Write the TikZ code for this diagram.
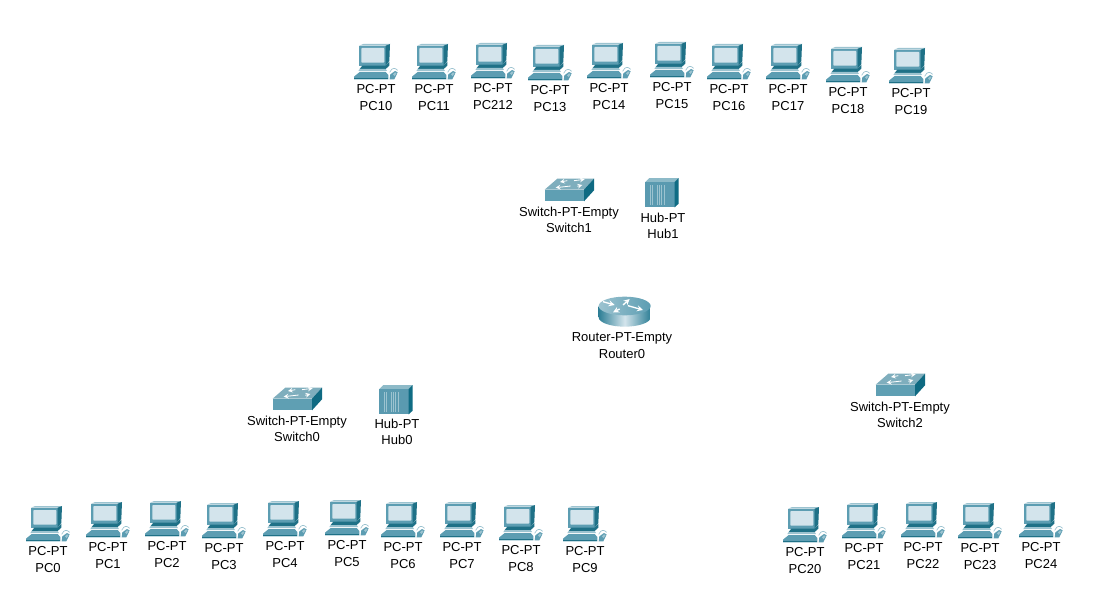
\documentclass[tikz,border=0pt]{standalone}
\usepackage{fontspec}
\setmainfont{Liberation Sans}
\definecolor{pcface}{HTML}{5C9DB2}
\definecolor{pcdark}{HTML}{1F7187}
\definecolor{pcscreen}{HTML}{D3E4EC}
\definecolor{pclight}{HTML}{9CC3D0}
\definecolor{swtop}{HTML}{7FAEBD}
\definecolor{swfront}{HTML}{5F9FB3}
\definecolor{swside}{HTML}{0F6A82}
\definecolor{hubfront}{HTML}{5A9AB0}
\definecolor{hubside}{HTML}{0F6C84}
\definecolor{hubtop}{HTML}{8DBAC8}
\definecolor{rttop}{HTML}{84B2C2}
\definecolor{rtdark}{HTML}{2E7F96}
\tikzset{
  devlabel/.style={font=\fontsize{9.75}{12.2}\selectfont,align=center,inner sep=0pt,text=black},
  zoomcoord/.style={x=0.25pt,y=-0.25pt},
  pcicon/.pic={
    \begin{scope}[zoomcoord,xshift=-23.25pt,yshift=7.5pt,line join=round]
      % monitor
      \fill[pcface] (42,32) -- (122,32) -- (122,92) -- (42,92) -- cycle;
      \fill[pclight] (42,32) -- (55,27) -- (135,27) -- (122,32) -- cycle;
      \fill[pcdark] (122,32) -- (135,27) -- (133,78) -- (122,92) -- cycle;
      \fill[pcscreen,rounded corners=0.6pt] (49,39) -- (118,39) -- (118,83) -- (49,83) -- cycle;
      % neck and base
      \fill[pcdark] (52,92) -- (122,92) -- (133,80) -- (133,92) -- (122,102) -- (44,102) -- cycle;
      \fill[pclight] (44,102) -- (122,102) -- (126,108) -- (40,108) -- cycle;
      % keyboard
      \fill[pcface] (44,111) -- (122,111) -- (130,120) -- (130,133) -- (27,133) -- (27,125) -- cycle;
      \fill[pcdark] (27,130) -- (130,130) -- (130,133) -- (27,133) -- cycle;
      % mouse
      \draw[pclight,line width=0.5pt] (134,112) .. controls (142,96) and (150,98) .. (158,106);
      \fill[pcface] (136,118) -- (150,108) -- (158,112) -- (148,133) -- (134,133) -- cycle;
      \fill[pclight] (144,118) -- (150,112) -- (155,114) -- (149,123) -- cycle;
    \end{scope}
  },
  switchicon/.pic={
    \begin{scope}[zoomcoord,xshift=-43.75pt,yshift=7pt,line join=round]
      \fill[swtop] (102,60) -- (140,27) -- (250,27) -- (220,60) -- cycle;
      \fill[swfront] (102,60) -- (220,60) -- (220,95) -- (102,95) -- cycle;
      \fill[swside] (220,60) -- (250,27) -- (250,62) -- (220,95) -- cycle;
      \draw[white,line width=0.6pt,-stealth] (170,33) -- (148,37);
      \draw[white,line width=0.6pt,-stealth] (190,33) -- (222,29);
      \draw[white,line width=0.6pt,-stealth] (180,49) -- (135,54);
      \draw[white,line width=0.6pt,-stealth] (200,50) -- (215,46);
    \end{scope}
  },
  hubicon/.pic={
    \begin{scope}[zoomcoord,xshift=-114.5pt,yshift=6.25pt,line join=round]
      \fill[hubtop] (405,37) -- (417,25) -- (505,25) -- (493,37) -- cycle;
      \fill[hubfront] (405,37) -- (493,37) -- (493,113) -- (405,113) -- cycle;
      \fill[hubside] (493,37) -- (505,25) -- (505,102) -- (493,113) -- cycle;
      \foreach \sx in {420,427,440,447,453,462}
        \draw[pclight,line width=0.6pt] (\sx,47) -- (\sx,106);
    \end{scope}
  },
  routericon/.pic={
    \begin{scope}[zoomcoord,xshift=-39.25pt,yshift=5.5pt,line join=round]
      \path[left color=rtdark,right color=rtdark,middle color=pcscreen]
        (87,49) -- (87,83) arc[start angle=180,end angle=0,x radius=78,y radius=28] -- (243,49) -- cycle;
      \path[left color=pclight,right color=pcface] (165,49) ellipse[x radius=78,y radius=28];
      \draw[white,line width=1pt,-stealth] (100,36) -- (135,46);
      \draw[white,line width=1pt,-stealth] (150,58) -- (130,68);
      \draw[white,line width=1pt,-stealth] (160,46) -- (180,28);
      \draw[white,line width=1pt,-stealth] (175,48) -- (220,61);
    \end{scope}
  }
}
\newcommand{\pcdev}[3]{%
  \pic at (#1,#2) {pcicon};
  \node[devlabel] (#3) at (#1,#2+52.5) {PC-PT\\#3};
}
\newcommand{\devicelab}[6]{%
  \pic at (#2,#3) {#1};
  \node[devlabel] (#4) at (#2,#3+#6) {#5\\#4};
}
\begin{document}
\begin{tikzpicture}[x=0.75pt,y=-0.75pt]
  \useasboundingbox[fill=white] (0,0) rectangle (1100,610);
  \pcdev{376}{45}{PC10}
  \pcdev{434}{45}{PC11}
  \pcdev{493}{44}{PC212}
  \pcdev{550}{46}{PC13}
  \pcdev{609}{44}{PC14}
  \pcdev{672}{43}{PC15}
  \pcdev{729}{45}{PC16}
  \pcdev{788}{45}{PC17}
  \pcdev{848}{48}{PC18}
  \pcdev{911}{49}{PC19}
  \pcdev{48}{507}{PC0}
  \pcdev{108}{503}{PC1}
  \pcdev{167}{502}{PC2}
  \pcdev{224}{504}{PC3}
  \pcdev{285}{502}{PC4}
  \pcdev{347}{501}{PC5}
  \pcdev{403}{503}{PC6}
  \pcdev{462}{503}{PC7}
  \pcdev{521}{506}{PC8}
  \pcdev{585}{507}{PC9}
  \pcdev{805}{508}{PC20}
  \pcdev{864}{504}{PC21}
  \pcdev{923}{503}{PC22}
  \pcdev{980}{504}{PC23}
  \pcdev{1041}{503}{PC24}
  \devicelab{switchicon}{569}{179}{Switch1}{Switch-PT-Empty}{40.5}
  \devicelab{switchicon}{297}{388}{Switch0}{Switch-PT-Empty}{40.5}
  \devicelab{switchicon}{900}{374}{Switch2}{Switch-PT-Empty}{40.5}
  \devicelab{hubicon}{663}{178}{Hub1}{Hub-PT}{47.5}
  \devicelab{hubicon}{397}{385}{Hub0}{Hub-PT}{46.5}
  \devicelab{routericon}{622}{297}{Router0}{Router-PT-Empty}{48.5}
\end{tikzpicture}
\end{document}
